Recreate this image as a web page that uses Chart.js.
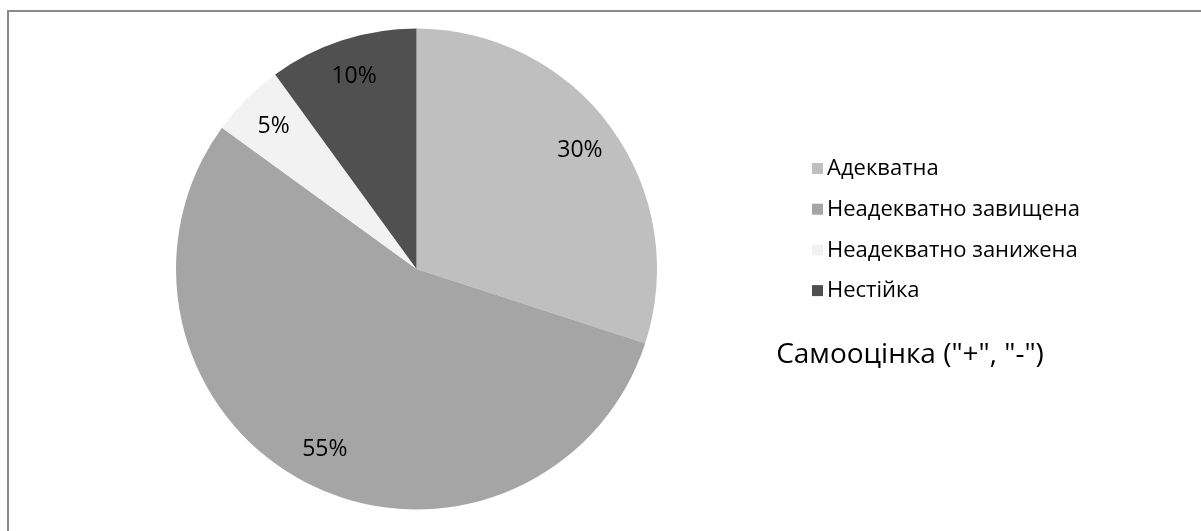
<!DOCTYPE html>
<html>
<head>
<meta charset="utf-8">
<script src="https://cdn.jsdelivr.net/npm/chart.js@4"></script>
<style>
  html, body { margin: 0; padding: 0; background: #fff; }
  #wrap { position: relative; width: 1201px; height: 531px; }
  #frame { position: absolute; left: 7px; top: 10px; right: 0; bottom: 0;
           border-top: 2px solid #8a8a8a; border-left: 2px solid #8a8a8a; }
  canvas { position: absolute; left: 0; top: 0; }
</style>
</head>
<body>
<div id="wrap">
  <div id="frame"></div>
  <canvas id="mygraph" width="1201" height="531"></canvas>
</div>
<script>
// Chart data
const categories = ["Адекватна", "Неадекватно завищена", "Неадекватно занижена", "Нестійка"];
const values = [30, 55, 5, 10];
const slice_colors = ["#bfbfbf", "#a5a5a5", "#f2f2f2", "#505050"];
const chart_title = 'Самооцінка ("+", "-")';

const font_family = '"Open Sans", "Noto Sans", sans-serif';

// Draws percent labels inside slices, plus the legend and title on the right
const pie_labels = {
  id: 'pie_labels',
  afterDatasetsDraw(chart) {
    const ctx = chart.ctx;
    const meta = chart.getDatasetMeta(0);
    const total = values.reduce((a, b) => a + b, 0);
    ctx.save();
    ctx.fillStyle = '#000';
    ctx.font = '23px ' + font_family;
    ctx.textAlign = 'center';
    ctx.textBaseline = 'middle';
    meta.data.forEach((arc, i) => {
      const mid = (arc.startAngle + arc.endAngle) / 2;
      const r = arc.outerRadius * 0.84;
      const x = arc.x + Math.cos(mid) * r;
      const y = arc.y + Math.sin(mid) * r;
      ctx.fillText(Math.round(values[i] / total * 100) + '%', x, y);
    });

    // legend
    ctx.textAlign = 'left';
    ctx.font = '22px ' + font_family;
    categories.forEach((name, i) => {
      const y = 169 + i * 40.7;
      ctx.fillStyle = slice_colors[i];
      ctx.fillRect(812, y - 6, 11, 11);
      ctx.fillStyle = '#000';
      ctx.fillText(name, 827, y);
    });

    // title
    ctx.font = '28px ' + font_family;
    ctx.textAlign = 'center';
    ctx.fillText(chart_title, 910, 355);
    ctx.restore();
  }
};

const graph = document.getElementById('mygraph');
new Chart(graph, {
  type: 'pie',
  data: {
    labels: categories,
    datasets: [{ data: values, backgroundColor: slice_colors, borderWidth: 0 }]
  },
  options: {
    responsive: false,
    animation: false,
    layout: { padding: { left: 176, right: 544, top: 28, bottom: 21 } },
    plugins: {
      legend: { display: false },
      tooltip: { enabled: false }
    }
  },
  plugins: [pie_labels]
});
</script>
</body>
</html>
